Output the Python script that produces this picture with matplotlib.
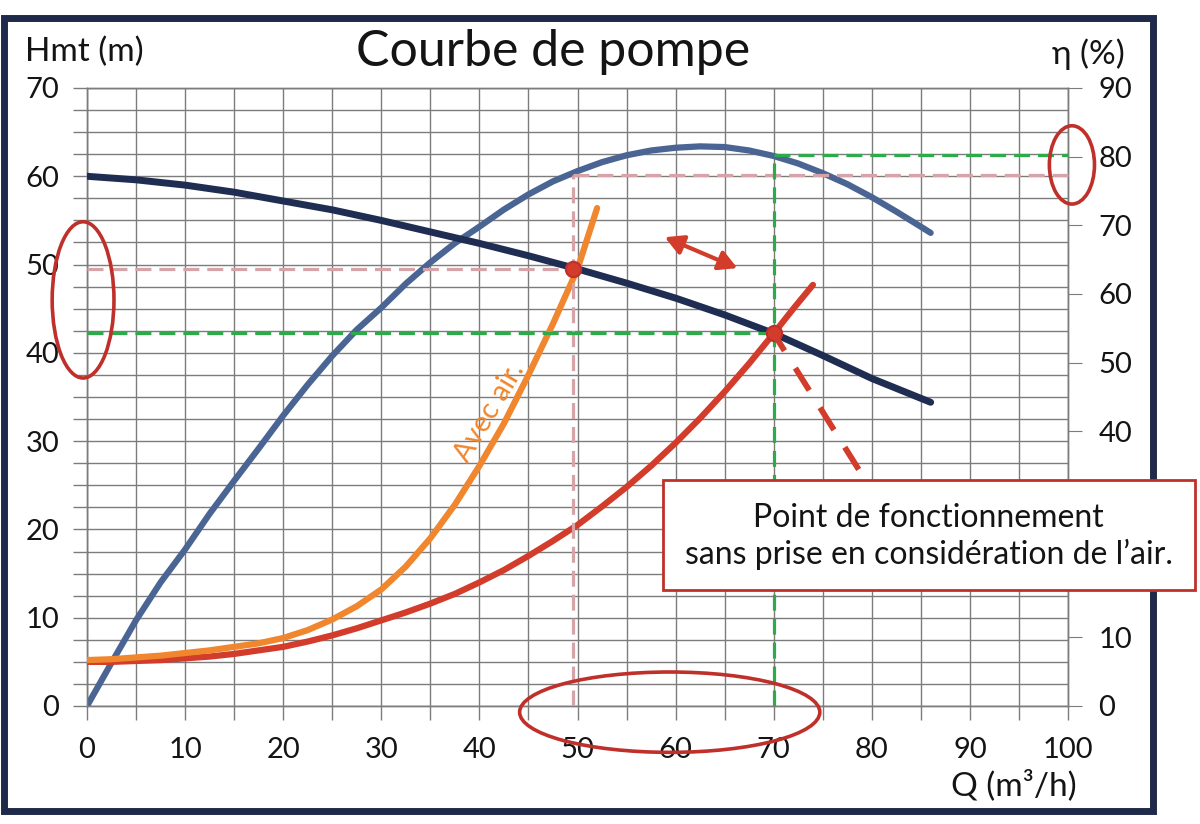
import numpy as np
import matplotlib.pyplot as plt
from matplotlib.patches import Ellipse, Rectangle

plt.rcParams['font.family'] = ['Lato', 'DejaVu Sans']

# courbe de la pompe Hmt = f(Q)
q_pompe = [0, 5, 10, 15, 20, 25, 30, 35, 40, 45, 50, 55, 60, 65, 70, 75, 80, 86]
h_pompe = [60, 59.6, 59, 58.2, 57.2, 56.2, 55, 53.7, 52.4, 51, 49.5, 47.9, 46.2, 44.3, 42.2, 39.7, 37.1, 34.4]

# rendement (axe de droite)
q_rend = [0, 2.5, 5, 7.5, 10, 12.5, 15, 17.5, 20, 22.5, 25, 27.5, 30, 32.5, 35, 37.5, 40, 42.5, 45,
          47.5, 50, 52.5, 55, 57.5, 60, 62.5, 65, 67.5, 70, 72.5, 75, 77.5, 80, 82.5, 85, 86]
rend = [0, 6.3, 12.5, 18, 22.8, 28, 32.8, 37.5, 42.3, 46.8, 51, 54.8, 58, 61.5, 64.6, 67.4, 69.8, 72.3, 74.5,
        76.4, 77.9, 79.2, 80.2, 80.9, 81.3, 81.5, 81.4, 80.9, 80.1, 79, 77.6, 76, 74.1, 72, 69.8, 68.9]

# courbe du reseau (sans air)
q_reseau = [0, 2.5, 5, 7.5, 10, 12.5, 15, 17.5, 20, 22.5, 25, 27.5, 30, 32.5, 35, 37.5, 40, 42.5, 45,
            47.5, 50, 52.5, 55, 57.5, 60, 62.5, 65, 67.5, 70, 72, 74]
h_reseau = [5, 5, 5.1, 5.2, 5.4, 5.6, 5.9, 6.3, 6.7, 7.3, 8, 8.8, 9.7, 10.6, 11.6, 12.7, 14, 15.4, 17,
            18.7, 20.5, 22.6, 24.8, 27.2, 29.8, 32.6, 35.6, 38.8, 42.2, 45, 47.7]

# courbe du reseau avec air
q_air = [0, 2.5, 5, 7.5, 10, 12.5, 15, 17.5, 20, 22.5, 25, 27.5, 30, 32.5, 35, 37.5, 40, 42.5, 45, 47.5, 50, 52]
h_air = [5.2, 5.3, 5.5, 5.7, 6, 6.3, 6.7, 7.1, 7.7, 8.6, 9.8, 11.3, 13.2, 15.8, 19, 22.8, 27.2, 32, 37.5,
         43.3, 49.5, 56.4]

# points de fonctionnement : avec air / sans air
q_fonct = [49.5, 70]
h_fonct = [49.5, 42.2]
rend_fonct = [77.3, 80.2]

navy = '#202d52'
bleu = '#4a6593'
rouge = '#d33b2a'
rouge_fonce = '#c0302a'
orange = '#f0862d'
rose = '#d6a3a8'
vert = '#2eaa4a'
gris = '#7c7c7c'
noir = '#141414'

fig = plt.figure(figsize=(12, 8.24), dpi=100)
fig.patch.set_facecolor('white')
ax = fig.add_axes([87/1200, 1-706/824, 981/1200, 618/824])
ax2 = ax.twinx()
ax2.set_zorder(0)
ax.set_zorder(1)
ax.patch.set_visible(False)

ax.set_xlim(0, 100)
ax.set_ylim(0, 70)
ax2.set_ylim(0, 90)

ax.set_xticks(np.arange(0, 101, 10))
ax.set_xticks(np.arange(0, 101, 5), minor=True)
ax.set_yticks(np.arange(0, 71, 10))
ax.set_yticks(np.arange(0, 71, 2.5), minor=True)
# les graduations 20 et 30 de droite sont cachees par l'encadre
ax2.set_yticks(np.arange(0, 91, 10))
ax2.set_yticklabels(['' if v in (20, 30) else str(v) for v in range(0, 91, 10)])
ax.set_axisbelow(True)
ax.grid(which='both', color=gris, lw=1)
ax.tick_params(which='both', direction='out', length=10, color=gris, width=1)
ax.tick_params(axis='x', which='major', labelsize=21, pad=12, labelcolor=noir)
ax.tick_params(axis='y', which='major', labelsize=21, pad=10, labelcolor=noir)
ax2.tick_params(axis='y', direction='out', length=10, color=gris, labelsize=21, pad=12, labelcolor=noir)
for a in (ax, ax2):
    for s in a.spines.values():
        s.set_color(gris)
        s.set_linewidth(1)

# courbes
ax.plot(q_rend, rend, color=bleu, lw=4.5, solid_capstyle='round', transform=ax2.transData, zorder=2)
ax.plot(q_pompe, h_pompe, color=navy, lw=5, solid_capstyle='round', zorder=3)
ax.plot(q_reseau, h_reseau, color=rouge, lw=4.5, solid_capstyle='round', zorder=3)
ax.plot(q_air, h_air, color=orange, lw=4.5, solid_capstyle='round', zorder=3.2)

# lignes de lecture
tirets = (0, (5, 2.5))
ax.plot([0, q_fonct[0]], [h_fonct[0], h_fonct[0]], color=rose, lw=2.3, ls=tirets, zorder=4)
ax.plot([q_fonct[0], q_fonct[0]], [0, rend_fonct[0]], color=rose, lw=2.3, ls=tirets, transform=ax2.transData, zorder=4)
ax.plot([q_fonct[0], 100], [rend_fonct[0], rend_fonct[0]], color=rose, lw=2.3, ls=tirets, transform=ax2.transData, zorder=4, clip_on=False)
ax.plot([0, q_fonct[1]], [h_fonct[1], h_fonct[1]], color=vert, lw=2.3, ls=tirets, zorder=4)
ax.plot([q_fonct[1], q_fonct[1]], [0, rend_fonct[1]], color=vert, lw=2.3, ls=tirets, transform=ax2.transData, zorder=4)
ax.plot([q_fonct[1], 100], [rend_fonct[1], rend_fonct[1]], color=vert, lw=2.3, ls=tirets, transform=ax2.transData, zorder=4, clip_on=False)

ax.plot(q_fonct, h_fonct, 'o', ms=11, mfc=rouge, mec=rouge_fonce, mew=1.5, zorder=5)

# annotations a la main
ax.add_patch(Ellipse((-0.4, 46), 6.3, 17.7, fill=False, ec=rouge_fonce, lw=2.6, clip_on=False, zorder=6))
ax.add_patch(Ellipse((59.4, -0.7), 30.6, 9.1, fill=False, ec=rouge_fonce, lw=2.6, clip_on=False, zorder=6))
ax.add_patch(Ellipse((100.4, 78.8), 4.6, 11.4, fill=False, ec=rouge_fonce, lw=2.6, clip_on=False,
                     transform=ax2.transData, zorder=6))

ax.annotate('', xy=(58.9, 53.1), xytext=(66.3, 49.6),
            arrowprops=dict(arrowstyle='<|-|>,head_length=1.1,head_width=0.6', color=rouge, lw=3,
                            shrinkA=0, shrinkB=0), zorder=6)
ax.plot([q_fonct[1], 79.5], [h_fonct[1], 25.3], color=rouge, lw=4.2, ls=(1, (4.5, 3.5)), zorder=5)

ax.text(41.0, 33.3, 'Avec air.', color=orange, fontsize=21, rotation=59, rotation_mode='anchor',
        ha='center', va='center', zorder=6)

ax.add_patch(Rectangle((58.7, 13.1), 54.2, 12.5, fc='white', ec=rouge_fonce, lw=2, clip_on=False, zorder=10))
ax.text(85.8, 19.2, 'Point de fonctionnement\nsans prise en considération de l\u2019air.', fontsize=23,
        ha='center', va='center', linespacing=1.2, color=noir, zorder=11, clip_on=False)

# titres
fig.text(553/1200, 1-52/824, 'Courbe de pompe', fontsize=36, ha='center', va='center', color=noir)
fig.text(25/1200, 1-52/824, 'Hmt (m)', fontsize=24, ha='left', va='center', color=noir)
fig.text(1125/1200, 1-54/824, '\u03b7 (%)', fontsize=24, ha='right', va='center', color=noir)
fig.text(1077/1200, 1-785/824, 'Q (m\u00b3/h)', fontsize=24, ha='right', va='center', color=noir)

# cadre
fig.add_artist(Rectangle((4/1200, 1-811/824), 1149/1200, 793/824, transform=fig.transFigure,
                         fill=False, ec='#1f2a4a', lw=5, zorder=0.5))

fig.savefig('out.png', dpi=100, facecolor='white')
